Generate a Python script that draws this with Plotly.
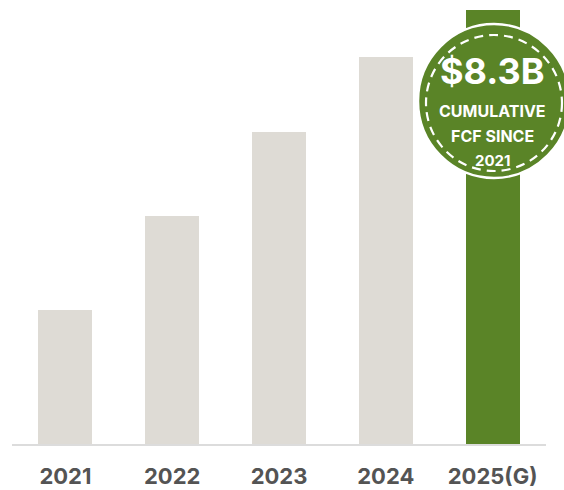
import plotly.graph_objects as go

# Cumulative free cash flow by year ($B); 2025 is guidance
years = ["2021", "2022", "2023", "2024", "2025(G)"]
cumulative_fcf_b = [2.56, 4.36, 5.97, 7.40, 8.3]
bar_colors = ["#dedbd5", "#dedbd5", "#dedbd5", "#dedbd5", "#5a8427"]

badge_value = "$8.3B"
badge_lines = ["CUMULATIVE", "FCF SINCE", "2021"]

GREEN = "#5a8427"
FONT = "Inter"

fig = go.Figure(
    go.Bar(
        x=list(range(len(years))),
        y=cumulative_fcf_b,
        marker=dict(color=bar_colors, line=dict(width=0)),
        width=0.505,
        hoverinfo="skip",
    )
)

# badge centred over the guidance bar, in paper coordinates so it is not clipped
n = len(years)
bx = (n - 1 + 0.5) / n + 1.4 / 534
by = 0.7725

fig.add_shape(
    type="circle", xref="paper", yref="paper",
    xsizemode="pixel", ysizemode="pixel",
    xanchor=bx, yanchor=by,
    x0=-76, x1=76, y0=-77, y1=77,
    fillcolor=GREEN, line=dict(color="white", width=2.5), layer="above",
)
fig.add_shape(
    type="circle", xref="paper", yref="paper",
    xsizemode="pixel", ysizemode="pixel",
    xanchor=bx, yanchor=by,
    x0=-68, x1=68, y0=-70, y1=66,
    fillcolor="rgba(0,0,0,0)",
    line=dict(color="white", width=2.2, dash="9px,6px"), layer="above",
)

fig.add_annotation(
    x=bx - 0.002, y=by + 30 / 444, xref="paper", yref="paper",
    text=f"<b>{badge_value}</b>", showarrow=False,
    font=dict(family=FONT, size=36, color="white"),
    xanchor="center", yanchor="middle",
)
for i, line in enumerate(badge_lines):
    fig.add_annotation(
        x=bx - 0.002, y=by - (10 + 24.5 * i) / 444, xref="paper", yref="paper",
        text=f"<b>{line}</b>", showarrow=False,
        font=dict(family=FONT, size=16 if i < 2 else 15, color="white"),
        xanchor="center", yanchor="middle",
    )

fig.update_layout(
    width=564, height=490,
    margin=dict(l=12, r=18, t=0, b=46),
    paper_bgcolor="white", plot_bgcolor="white",
    showlegend=False,
    bargap=0,
    xaxis=dict(
        range=[-0.5, n - 0.5],
        tickmode="array", tickvals=list(range(n)), ticktext=years,
        tickfont=dict(family=FONT, size=22, color="#545454", weight="bold"),
        ticks="outside", ticklen=12, tickcolor="rgba(0,0,0,0)",
        showline=True, linecolor="#dcdcdc", linewidth=2,
        showgrid=False, zeroline=False, fixedrange=True, automargin=False,
    ),
    yaxis=dict(
        range=[0, 8.49], visible=False, showgrid=False, zeroline=False,
        fixedrange=True, automargin=False,
    ),
)

fig.write_html("out.html")
